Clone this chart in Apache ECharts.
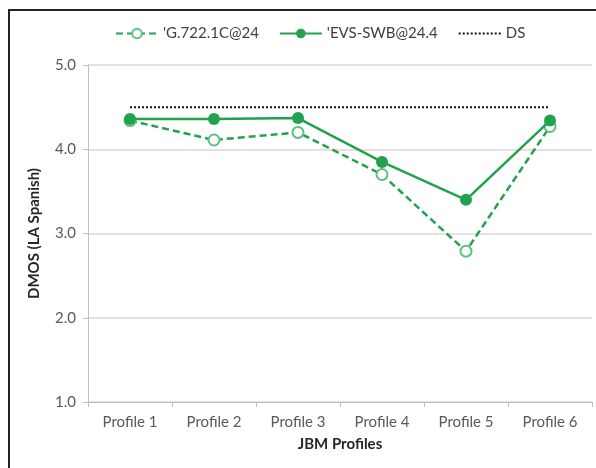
<!DOCTYPE html>
<html>
<head>
<meta charset="utf-8">
<script src="https://cdn.jsdelivr.net/npm/echarts@6/dist/echarts.min.js"></script>
<style>
html,body{margin:0;padding:0;background:#fff;overflow:hidden;}
#c{width:596px;height:468px;position:absolute;left:0;top:0;}
#frame{position:absolute;left:8px;top:9px;width:800px;height:800px;border-left:2px solid #222;border-top:2px solid #222;pointer-events:none;}
</style>
</head>
<body>
<div id="c"></div>
<div id="frame"></div>
<script>
const categories = ['Profile 1','Profile 2','Profile 3','Profile 4','Profile 5','Profile 6'];
const g722 = [4.34, 4.11, 4.20, 3.70, 2.79, 4.27];
const evs = [4.36, 4.36, 4.37, 3.85, 3.40, 4.34];
const ds = [4.5, 4.5, 4.5, 4.5, 4.5, 4.5];
const seriesNames = ["'G.722.1C@24", "'EVS-SWB@24.4", "DS"];

const green = '#22a24c';
const font = 'Lato, "Open Sans", sans-serif';
const chart = echarts.init(document.getElementById('c'), null, {renderer:'canvas'});
chart.setOption({
  animation:false,
  textStyle:{fontFamily:font},
  legend:{
    top:21, left:110, itemGap:20, itemWidth:42, itemHeight:12,
    textStyle:{fontSize:15,color:'#404040',fontFamily:font},
    data:[{name:seriesNames[0]},{name:seriesNames[1]},
          {name:seriesNames[2],itemStyle:{color:'rgba(0,0,0,0)',borderWidth:0}}]
  },
  grid:{left:88,right:4,top:65,bottom:66},
  xAxis:{
    type:'category', data:categories, boundaryGap:true,
    name:'JBM Profiles', nameLocation:'middle', nameGap:35,
    nameTextStyle:{fontSize:15,fontWeight:'bold',color:'#262626',fontFamily:font},
    axisLine:{lineStyle:{color:'#bfbfbf',width:1}},
    axisTick:{show:true,alignWithLabel:false,length:5,lineStyle:{color:'#bfbfbf'}},
    axisLabel:{fontSize:15,color:'#595959',margin:13,fontFamily:font}
  },
  yAxis:{
    type:'value', min:1, max:5, interval:1,
    name:'DMOS (LA Spanish)', nameLocation:'middle', nameGap:46,
    nameTextStyle:{fontSize:15,fontWeight:'bold',color:'#262626',fontFamily:font},
    axisLine:{show:true,lineStyle:{color:'#bfbfbf'}},
    axisTick:{show:true,length:5,lineStyle:{color:'#bfbfbf'}},
    axisLabel:{fontSize:15,color:'#595959',margin:12,formatter:v=>v.toFixed(1),fontFamily:font},
    splitLine:{lineStyle:{color:'#d9d9d9',width:1.5}}
  },
  series:[
    {name:seriesNames[0],type:'line',data:g722,symbol:'emptyCircle',symbolSize:11,
     lineStyle:{color:green,width:2.5,type:[7,4]},
     itemStyle:{color:'#5cc083',borderColor:'#5cc083',borderWidth:1.5},z:2},
    {name:seriesNames[1],type:'line',data:evs,symbol:'circle',symbolSize:12,
     lineStyle:{color:green,width:2.5},
     itemStyle:{color:green},z:3},
    {name:seriesNames[2],type:'line',data:ds,symbol:'none',
     lineStyle:{color:'#111',width:2,type:[2,2]},
     itemStyle:{color:'#111'},z:1}
  ]
});
</script>
</body>
</html>
